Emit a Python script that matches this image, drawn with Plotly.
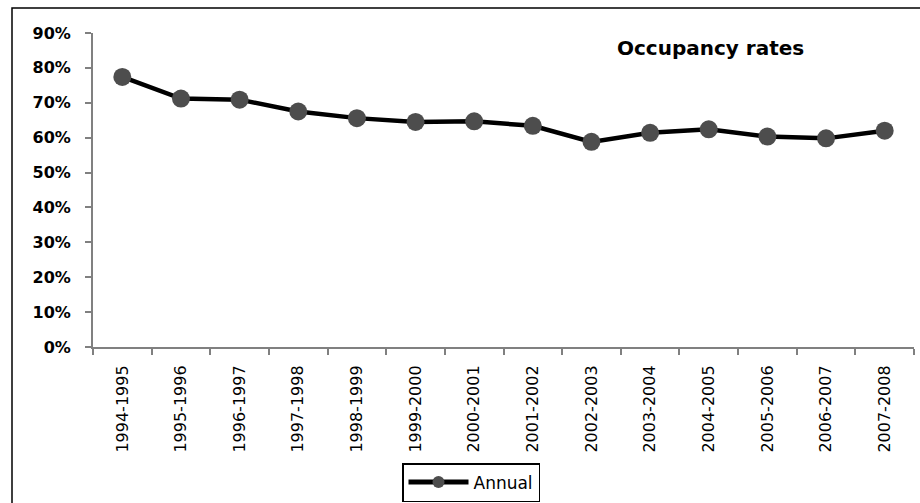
import plotly.graph_objects as go

periods = ["1994-1995", "1995-1996", "1996-1997", "1997-1998", "1998-1999",
           "1999-2000", "2000-2001", "2001-2002", "2002-2003", "2003-2004",
           "2004-2005", "2005-2006", "2006-2007", "2007-2008"]
annual = [0.774, 0.712, 0.709, 0.675, 0.656, 0.645, 0.647, 0.634,
          0.588, 0.614, 0.624, 0.603, 0.598, 0.620]
y_ticks = [0, 0.1, 0.2, 0.3, 0.4, 0.5, 0.6, 0.7, 0.8, 0.9]

FONT = "DejaVu Sans"

fig = go.Figure()
fig.add_trace(go.Scatter(
    x=periods, y=annual, mode="lines+markers", name="Annual",
    line=dict(color="black", width=4.5),
    marker=dict(color="#4d4d4d", size=18),
))

L, R, T, B = 93, 6, 33, 156
W, H = 920, 503
pw, ph = W - L - R, H - T - B

fig.update_layout(
    width=W, height=H,
    margin=dict(l=L, r=R, t=T, b=B, autoexpand=False),
    paper_bgcolor="white", plot_bgcolor="white",
    font=dict(family=FONT, color="black"),
    showlegend=True,
    legend=dict(
        x=(402 - L) / pw, y=(H - B - 463) / ph, xanchor="left", yanchor="top",
        bordercolor="black", borderwidth=1.5, bgcolor="white",
        font=dict(family=FONT, size=17, color="black"),
        itemwidth=60, itemsizing="constant", tracegroupgap=0,
    ),
    xaxis=dict(
        type="category", tickson="boundaries", ticks="outside", ticklen=6,
        tickcolor="#808080", tickwidth=2, showline=True, linecolor="#808080",
        linewidth=2, showgrid=False, tickangle=-90,
        tickfont=dict(family=FONT, size=16, color="black"),
        ticklabelstandoff=10,
        range=[-0.5, len(periods) - 0.5],
    ),
    yaxis=dict(
        range=[0, 0.9], tickvals=y_ticks, tickformat=".0%", ticks="outside",
        ticklen=6, tickcolor="#808080", tickwidth=2, showline=True,
        linecolor="#808080", linewidth=2, showgrid=False, zeroline=False,
        tickfont=dict(family=FONT, size=16, color="black", weight="bold"),
        ticklabelstandoff=11,
    ),
    annotations=[dict(
        text="<b>Occupancy rates</b>", x=(710 - L) / pw, y=1 - (48 - T) / ph,
        xref="paper", yref="paper", xanchor="center", yanchor="middle",
        showarrow=False, font=dict(family=FONT, size=20, color="black"),
    )],
    shapes=[dict(
        type="rect", xref="paper", yref="paper",
        x0=(12 - L) / pw, x1=(930 - L) / pw,
        y0=(H - B - 520) / ph, y1=1 + (T - 8) / ph,
        line=dict(color="black", width=1.5), fillcolor="rgba(0,0,0,0)",
        layer="below",
    )],
)

fig.write_html(
    "out.html",
    config={"displayModeBar": False},
    post_script="document.body.style.margin='0';document.body.style.overflow='hidden';",
)
